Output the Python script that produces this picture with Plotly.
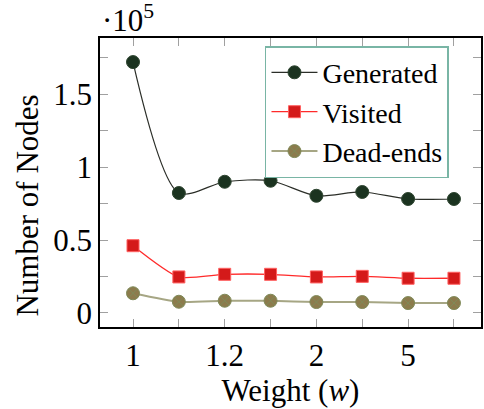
import plotly.graph_objects as go

# x positions (categorical weights, evenly spaced) and tick labels
x_index = [0, 1, 2, 3, 4, 5, 6, 7]
x_ticktext = ["1", "", "1.2", "", "2", "", "5", ""]

generated = [171900, 82200, 89900, 90600, 80300, 82900, 78100, 78100]
visited = [46100, 24700, 26500, 26500, 24700, 25100, 23800, 23800]
dead_ends = [13500, 7700, 8400, 8400, 7500, 7500, 6800, 6800]

y_tickvals = [0, 50000, 100000, 150000]
y_ticktext = ["0", "0.5", "1", "1.5"]

FONT = "Liberation Serif"
FS = 31

fig = go.Figure()
fig.add_trace(go.Scatter(
    x=x_index, y=generated, name="Generated", mode="lines+markers",
    line=dict(color="#2b2e28", width=1.2, shape="spline", smoothing=0.8),
    marker=dict(symbol="circle", size=13, color="#1b3320",
                line=dict(color="#2e4530", width=1)),
))
fig.add_trace(go.Scatter(
    x=x_index, y=visited, name="Visited", mode="lines+markers",
    line=dict(color="#ff2a2a", width=1.3, shape="spline", smoothing=0.6),
    marker=dict(symbol="square", size=12, color="#d41a1a",
                line=dict(color="#ff6060", width=1)),
))
fig.add_trace(go.Scatter(
    x=x_index, y=dead_ends, name="Dead-ends", mode="lines+markers",
    line=dict(color="#a6a684", width=2, shape="spline", smoothing=0.6),
    marker=dict(symbol="circle-x", size=13, color="#8c7b4c",
                line=dict(color="#7f8a58", width=1)),
))

fig.update_layout(
    width=484, height=409,
    margin=dict(l=100, r=1, t=38, b=82),
    paper_bgcolor="white", plot_bgcolor="white",
    font=dict(family=FONT, size=FS, color="black"),
    showlegend=True,
    legend=dict(
        x=0.433, y=0.972, xanchor="left", yanchor="top",
        bgcolor="white", bordercolor="#79b5a5", borderwidth=1.5,
        font=dict(family=FONT, size=28),
        itemwidth=46, tracegroupgap=0,
    ),
    xaxis=dict(
        range=[-0.72, 7.59], tickmode="array", tickvals=x_index,
        ticktext=x_ticktext, ticks="inside", ticklen=8, tickcolor="#a0a0a0",
        tickwidth=1.2, showline=True, linecolor="black", linewidth=1.5,
        mirror="allticks", showgrid=False, zeroline=False,
        title=dict(text="Weight (<i>w</i>)", standoff=6,
                   font=dict(family=FONT, size=FS)),
        tickfont=dict(family=FONT, size=FS),
    ),
    yaxis=dict(
        range=[-9600, 188400], tickmode="array", tickvals=y_tickvals,
        ticktext=y_ticktext, ticks="inside", ticklen=8, tickcolor="#a0a0a0",
        tickwidth=1.2, showline=True, linecolor="black", linewidth=1.5,
        mirror="allticks", showgrid=False, zeroline=False,
        minor=dict(dtick=25000, tick0=0, ticks="inside", ticklen=8,
                   tickcolor="#a0a0a0", tickwidth=1.2, showgrid=False),
        tickfont=dict(family=FONT, size=FS),
    ),
    annotations=[
        dict(text="·10<sup>5</sup>", xref="paper", yref="paper", x=0, y=1,
             xanchor="left", yanchor="bottom", showarrow=False, yshift=-2,
             font=dict(family=FONT, size=FS)),
        dict(text="Number of Nodes", xref="paper", yref="paper",
             x=-0.19, y=0.419, xanchor="center", yanchor="middle",
             textangle=-90, showarrow=False,
             font=dict(family=FONT, size=FS)),
    ],
)

fig.write_html("out.html")
